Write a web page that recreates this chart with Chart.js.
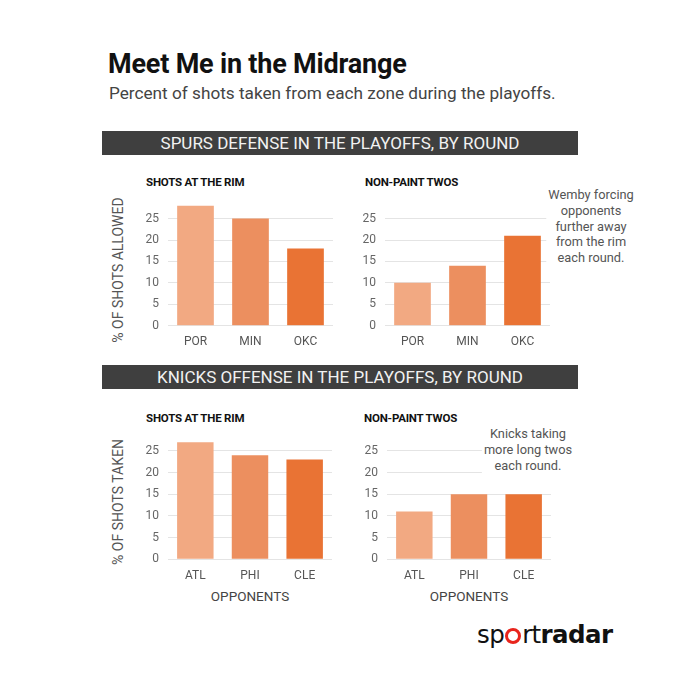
<!DOCTYPE html>
<html>
<head>
<meta charset="utf-8">
<script src="https://cdn.jsdelivr.net/npm/chart.js@4.4.1/dist/chart.umd.min.js"></script>
<style>
    body { margin: 0; background: #fff; }
    #page { position: relative; width: 680px; height: 680px; background: #fff; overflow: hidden; font-family: Roboto, sans-serif; }
    .abs { position: absolute; white-space: nowrap; }
    .title { left: 108px; top: 48px; font-size: 27px; font-weight: 700; color: #111; letter-spacing: -0.2px; }
    .subtitle { left: 109px; top: 83px; font-size: 17.2px; color: #444; }
    .banner { left: 102px; width: 476px; height: 24px; background: #3f3f3f; color: #f2f2f2; font-size: 17px; line-height: 24px; text-align: center; }
    .panel-title { font-size: 11.5px; font-weight: 700; color: #111; letter-spacing: -0.2px; }
    .ytitle { font-size: 14px; color: #555; transform: translate(-50%, -50%) rotate(-90deg); }
    .xtitle { font-size: 13.5px; color: #444; transform: translate(-50%, -50%); }
    .note { font-size: 12.8px; color: #555; line-height: 15.8px; text-align: center; transform: translateX(-50%); background: #fff; padding: 0 2px; z-index: 5; }
    .chart-box { position: absolute; }
    .logo { left: 477px; top: 620px; font-family: "DejaVu Sans", sans-serif; font-size: 24.5px; color: #111; letter-spacing: -0.6px; }
    .logo b { font-weight: 700; }
    .ring { display: inline-block; width: 10px; height: 10px; border: 3px solid #e8241c; border-radius: 50%; vertical-align: -1px; margin: 0 1px; }
</style>
</head>
<body>
<div id="page">
    <div class="abs title">Meet Me in the Midrange</div>
    <div class="abs subtitle">Percent of shots taken from each zone during the playoffs.</div>

    <div class="abs banner" style="top:131px">SPURS DEFENSE IN THE PLAYOFFS, BY ROUND</div>
    <div class="abs banner" style="top:365px">KNICKS OFFENSE IN THE PLAYOFFS, BY ROUND</div>

    <div class="abs panel-title" style="left:146px; top:175px">SHOTS AT THE RIM</div>
    <div class="abs panel-title" style="left:365px; top:175px">NON-PAINT TWOS</div>
    <div class="abs panel-title" style="left:146px; top:411px">SHOTS AT THE RIM</div>
    <div class="abs panel-title" style="left:364px; top:411px">NON-PAINT TWOS</div>

    <div class="abs ytitle" style="left:118px; top:270px">% OF SHOTS ALLOWED</div>
    <div class="abs ytitle" style="left:118px; top:502px">% OF SHOTS TAKEN</div>

    <div class="abs xtitle" style="left:250px; top:596px">OPPONENTS</div>
    <div class="abs xtitle" style="left:469px; top:596px">OPPONENTS</div>

    <div class="abs note" style="left:591px; top:187px">Wemby forcing<br>opponents<br>further away<br>from the rim<br>each round.</div>
    <div class="abs note" style="left:528px; top:426px">Knicks taking<br>more long twos<br>each round.</div>

    <div class="abs logo">sp<span class="ring"></span>rt<b>radar</b></div>
</div>

<script>
// values
const spursRounds = ['POR', 'MIN', 'OKC'];
const spursRim = [28, 25, 18];
const spursMidrange = [10, 14, 21];

const knicksRounds = ['ATL', 'PHI', 'CLE'];
const knicksRim = [27, 24, 23];
const knicksMidrange = [11, 15, 15];

const yTicks = [0, 5, 10, 15, 20, 25];
const barColors = ['#f2a982', '#ec8f5f', '#e97334'];

// plot areas on the page (left, right, top of scale max, bottom at 0)
const panels = [
    { labels: spursRounds, values: spursRim, left: 168, right: 333, top: 190.6, bottom: 325.3 },
    { labels: spursRounds, values: spursMidrange, left: 385, right: 550, top: 190.6, bottom: 325.3 },
    { labels: knicksRounds, values: knicksRim, left: 168, right: 332, top: 423.0, bottom: 559.3 },
    { labels: knicksRounds, values: knicksMidrange, left: 386.7, right: 550.7, top: 423.0, bottom: 559.3 }
];

const Y_AXIS_W = 40, X_AXIS_H = 26, PAD_TOP = 10, PAD_RIGHT = 6;

function makePanel(p) {
    const box = document.createElement('div');
    box.className = 'chart-box';
    const w = Math.round(p.right - p.left + Y_AXIS_W + PAD_RIGHT);
    const h = Math.round(p.bottom - p.top + PAD_TOP + X_AXIS_H);
    box.style.left = (p.left - Y_AXIS_W) + 'px';
    box.style.top = (p.top - PAD_TOP) + 'px';
    box.style.width = w + 'px';
    box.style.height = h + 'px';
    const canvas = document.createElement('canvas');
    canvas.width = w;
    canvas.height = h;
    box.appendChild(canvas);
    document.getElementById('page').appendChild(box);

    // keep the plot area exactly where the reference has it
    const rightPad = w - Y_AXIS_W - (p.right - p.left);
    const bottomAxis = h - PAD_TOP - (p.bottom - p.top);

    new Chart(canvas.getContext('2d'), {
        type: 'bar',
        data: {
            labels: p.labels,
            datasets: [{
                data: p.values,
                backgroundColor: barColors,
                borderWidth: 0,
                barPercentage: 0.667,
                categoryPercentage: 1
            }]
        },
        options: {
            responsive: false,
            animation: false,
            layout: { padding: { top: PAD_TOP, right: rightPad, left: 0, bottom: 0 } },
            plugins: { legend: { display: false }, tooltip: { enabled: false } },
            scales: {
                x: {
                    grid: { display: false, drawTicks: false },
                    border: { display: false },
                    ticks: { color: '#555', font: { family: 'Roboto', size: 12 }, padding: 9 },
                    afterFit: axis => { axis.height = bottomAxis; }
                },
                y: {
                    min: 0,
                    max: 30,
                    grid: { color: '#e4e4e4', lineWidth: 1, drawTicks: false },
                    border: { display: false },
                    ticks: { color: '#666', font: { family: 'Roboto', size: 12 }, padding: 9 },
                    afterBuildTicks: axis => { axis.ticks = yTicks.map(v => ({ value: v })); },
                    afterFit: axis => { axis.width = Y_AXIS_W; }
                }
            }
        }
    });
}

panels.forEach(makePanel);
</script>
</body>
</html>
